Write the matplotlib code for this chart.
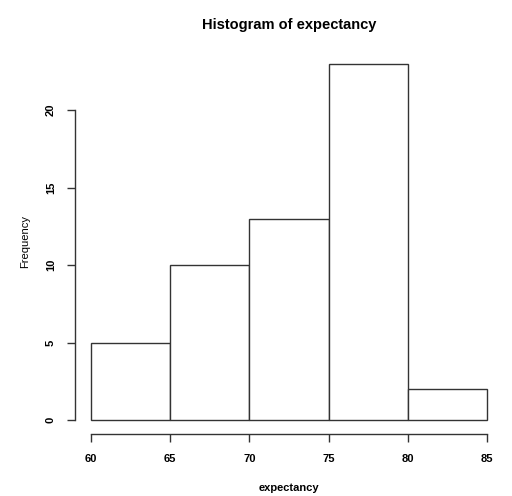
import matplotlib
matplotlib.use("Agg")
import matplotlib.pyplot as plt

# histogram of expectancy, R-style
bin_edges = [60, 65, 70, 75, 80, 85]
counts = [5, 10, 13, 23, 2]
x_ticks = [60, 65, 70, 75, 80, 85]
y_ticks = [0, 5, 10, 15, 20]

plt.rcParams['font.family'] = ['Liberation Sans', 'DejaVu Sans']

fig = plt.figure(figsize=(5.12, 4.96), dpi=100)
ax = fig.add_axes([0.147, 0.1244, 0.835, 0.776])

lefts = bin_edges[:-1]
widths = [b - a for a, b in zip(bin_edges[:-1], bin_edges[1:])]
ax.bar(lefts, counts, width=widths, align='edge', color='white',
       edgecolor='#333333', linewidth=1.0)

ax.set_xlim(59, 86)
ax.set_ylim(-0.92, 23.92)

for s in ['top', 'right']:
    ax.spines[s].set_visible(False)
ax.spines['left'].set_bounds(0, 20)
ax.spines['bottom'].set_bounds(60, 85)
for s in ['left', 'bottom']:
    ax.spines[s].set_color('#333333')
    ax.spines[s].set_linewidth(1.0)

ax.set_xticks(x_ticks)
ax.set_yticks(y_ticks)
ax.tick_params(axis='both', length=6, width=1.0, color='#333333',
               labelsize=8, pad=8)
for lab in ax.get_xticklabels():
    lab.set_fontweight('bold')
for lab in ax.get_yticklabels():
    lab.set_rotation(90)
    lab.set_va('center')
    lab.set_fontweight('bold')

ax.set_title('Histogram of expectancy', fontsize=10.5, fontweight='bold', pad=15)
ax.set_xlabel('expectancy', fontsize=8, fontweight='bold', labelpad=14)
ax.set_ylabel('Frequency', fontsize=8, labelpad=11)

fig.savefig('out.png', dpi=100)
